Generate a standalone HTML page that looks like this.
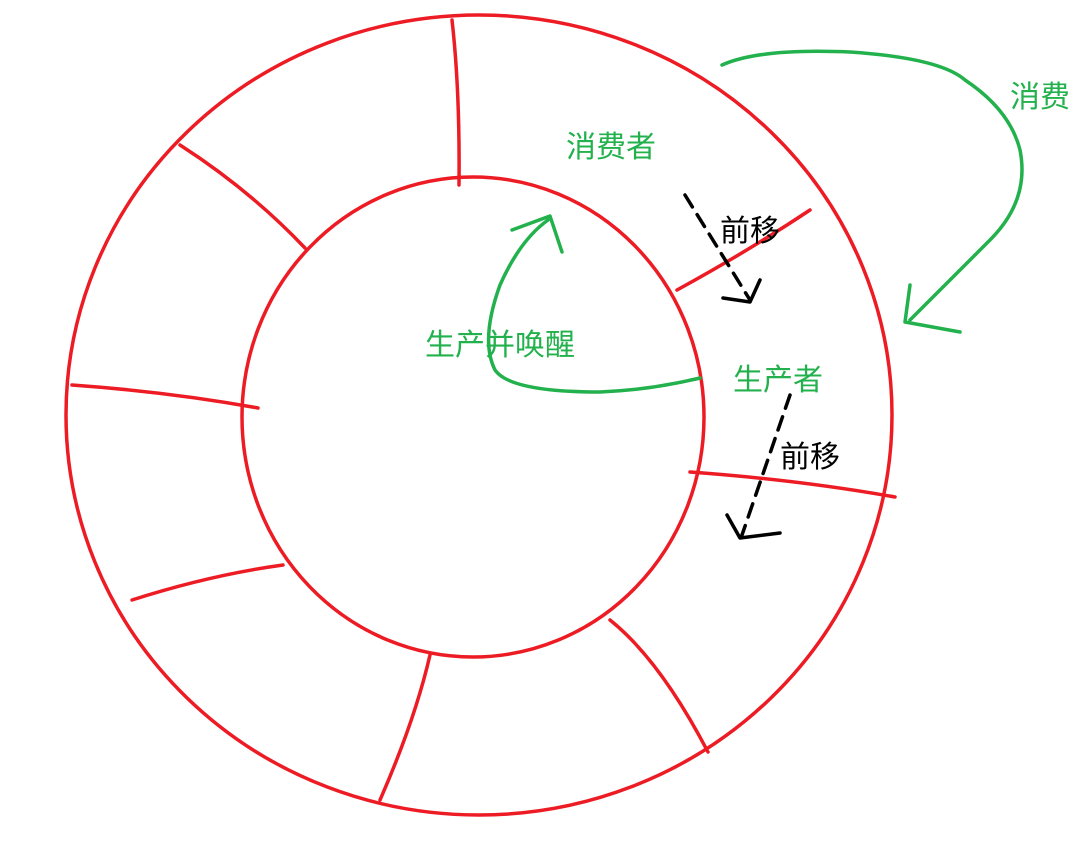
<!DOCTYPE html>
<html><head><meta charset="utf-8"><style>
html,body{margin:0;padding:0;background:#fff;}
svg{display:block;}
text{font-family:"Liberation Sans","Noto Sans CJK SC",sans-serif;font-size:30px;}
</style></head><body>
<svg width="1092" height="857" viewBox="0 0 1092 857" xmlns="http://www.w3.org/2000/svg">
<g fill="none" stroke="#ED1C24" stroke-width="3.5" stroke-linecap="round">
<ellipse cx="479" cy="415" rx="413" ry="400"/>
<ellipse cx="473" cy="417" rx="231" ry="240"/>
<path d="M452 20 Q460 90 459 185"/>
<path d="M180 145 Q250 190 305 248"/>
<path d="M72 385 Q170 392 258 408"/>
<path d="M132 600 Q210 575 283 565"/>
<path d="M430 655 Q415 720 380 800"/>
<path d="M610 620 Q660 660 708 752"/>
<path d="M690 472 Q800 480 895 497"/>
<path d="M677 290 Q750 250 810 210"/>
</g>
<g fill="none" stroke="#22B14C" stroke-width="3.5" stroke-linecap="round" stroke-linejoin="round">
<path d="M722 65 Q760 48 850 52 Q940 58 965 80 Q1010 110 1020 150 Q1030 200 990 240 Q940 290 910 320"/>
<path d="M910 285 L905 322 L960 332"/>
<path d="M700 378 Q650 390 600 392 Q510 392 495 370 Q480 340 500 285 Q520 240 548 220"/>
<path d="M512 230 L550 216 L562 252"/>
</g>
<g fill="none" stroke="#000" stroke-width="3.5" stroke-linecap="round" stroke-linejoin="round">
<path d="M685 195 L750 300" stroke-dasharray="14,9"/>
<path d="M723 298 L750 302 L760 280"/>
<path d="M790 395 L742 535" stroke-dasharray="14,9"/>
<path d="M727 515 L740 538 L780 533"/>
</g>
<g fill="#22B14C">
<text x="566" y="157">消费者</text>
<text x="425" y="355">生产并唤醒</text>
<text x="733" y="390">生产者</text>
<text x="1010" y="107">消费</text>
</g>
<g fill="#000">
<text x="720" y="241">前移</text>
<text x="780" y="467">前移</text>
</g>
</svg>
</body></html>
